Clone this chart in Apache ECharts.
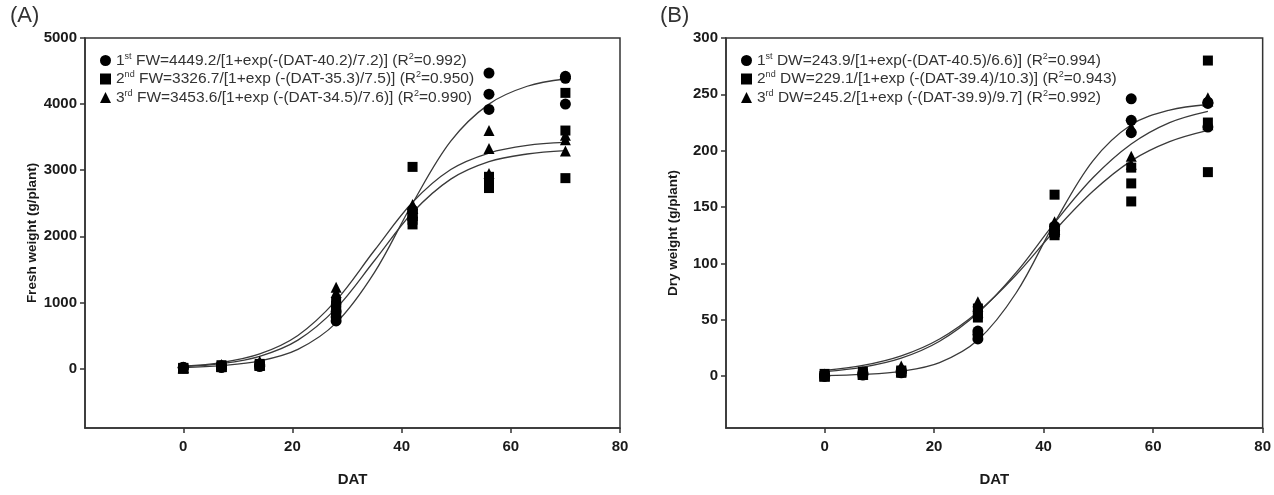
<!DOCTYPE html>
<html>
<head>
<meta charset="utf-8">
<title>Fresh and dry weight growth curves</title>
<script src="https://cdn.jsdelivr.net/npm/echarts@6/dist/echarts.min.js"></script>
<style>
    html, body { margin: 0; padding: 0; background: #fff; }
    #chart { width: 1274px; height: 495px; }
</style>
</head>
<body>
<div id="chart"></div>
<script>
/**
 * Observation days (DAT) and three replicate readings per day
 */
const obsDays = [0, 7, 14, 28, 42, 56, 70];

// Fresh weight (g/plant)
const fw1Obs = [[20, 15, 10], [40, 25, 15], [60, 45, 30], [860, 780, 720], [2400, 2350, 2280], [4470, 4150, 3920], [4420, 4390, 4000]];
const fw2Obs = [[10, 5, 0], [50, 30, 20], [70, 50, 40], [1000, 950, 880], [3050, 2250, 2180], [2900, 2800, 2730], [4170, 3600, 2880]];
const fw3Obs = [[20, 10, 5], [60, 40, 30], [110, 70, 50], [1230, 1150, 1050], [2480, 2420, 2320], [3600, 3330, 2950], [3530, 3460, 3290]];

// Dry weight (g/plant)
const dw1Obs = [[1, 0, 0], [3, 2, 1], [5, 4, 3], [40, 37, 33], [133, 129, 126], [246, 227, 216], [243, 242, 221]];
const dw2Obs = [[2, 0, 0], [4, 2, 1], [5, 4, 3], [60, 55, 52], [161, 131, 125], [185, 171, 155], [280, 225, 181]];
const dw3Obs = [[2, 1, 0], [4, 3, 2], [9, 5, 4], [66, 62, 57], [137, 135, 128], [221, 195, 188], [247, 244, 223]];

/**
 * Fitted curves
 */
const fitDays = [0, 7, 14, 21, 28, 35, 42, 49, 56, 63, 70];
const fw1Fit = [15, 45, 115, 290, 690, 1450, 2500, 3440, 4000, 4270, 4380];
const fw2Fit = [30, 75, 185, 430, 910, 1630, 2360, 2865, 3130, 3245, 3295];
const fw3Fit = [35, 90, 220, 500, 1030, 1785, 2515, 3010, 3260, 3375, 3420];
const dw1Fit = [0.5, 1.5, 4.3, 12, 32, 74, 136, 191, 223, 236, 241];
const dw2Fit = [5, 9.5, 18, 33, 57, 90, 129, 164, 191, 208, 218];
const dw3Fit = [4, 8, 16, 31, 56, 92, 136, 176, 206, 225, 235];

// Axis ticks
const xTicks = [0, 20, 40, 60, 80];
const fwTicks = [0, 1000, 2000, 3000, 4000, 5000];
const dwTicks = [0, 50, 100, 150, 200, 250, 300];

// Legend entries (rich text, superscripts in {s|...})
const legendText = {
    FW1: '1{s|st} FW=4449.2/[1+exp(-(DAT-40.2)/7.2)] (R{s|2}=0.992)',
    FW2: '2{s|nd} FW=3326.7/[1+exp (-(DAT-35.3)/7.5)] (R{s|2}=0.950)',
    FW3: '3{s|rd} FW=3453.6/[1+exp (-(DAT-34.5)/7.6)] (R{s|2}=0.990)',
    DW1: '1{s|st} DW=243.9/[1+exp(-(DAT-40.5)/6.6)] (R{s|2}=0.994)',
    DW2: '2{s|nd} DW=229.1/[1+exp (-(DAT-39.4)/10.3)] (R{s|2}=0.943)',
    DW3: '3{s|rd} DW=245.2/[1+exp (-(DAT-39.9)/9.7] (R{s|2}=0.992)',
};

const FONT = '"Liberation Sans", Arial, sans-serif';
const INK = '#1a1a1a';

/**
 * Flatten per-day replicate arrays into [x, y] points
 */
function toPoints(days, reps) {
    const out = [];
    days.forEach((d, i) => reps[i].forEach(v => out.push([d, v])));
    return out;
}

function toLine(days, vals) {
    return days.map((d, i) => [d, vals[i]]);
}

function xAxisFor(gridIndex) {
    return {
        type: 'value', gridIndex, min: -18, max: 80,
        name: 'DAT', nameLocation: 'middle', nameGap: 44,
        nameTextStyle: { fontFamily: FONT, fontWeight: 'bold', fontSize: 15, color: INK },
        axisLine: { onZero: false, lineStyle: { color: '#333', width: 1.5 } },
        axisTick: { customValues: xTicks, length: 5, lineStyle: { color: '#333', width: 1.5 } },
        axisLabel: { customValues: xTicks, fontFamily: FONT, fontWeight: 'bold', fontSize: 15, color: INK, margin: 11 },
        splitLine: { show: false },
    };
}

function yAxisFor(gridIndex, min, max, ticks, name) {
    return {
        type: 'value', gridIndex, min, max,
        name, nameLocation: 'middle', nameGap: 46,
        nameTextStyle: { fontFamily: FONT, fontWeight: 'bold', fontSize: 13.5, color: INK },
        axisLine: { show: true, onZero: false, lineStyle: { color: '#333', width: 1.5 } },
        axisTick: { show: true, customValues: ticks, length: 5, lineStyle: { color: '#333', width: 1.5 } },
        axisLabel: {
            customValues: ticks, fontFamily: FONT, fontWeight: 'bold', fontSize: 15, color: INK, margin: 8,
            formatter: v => String(v),
        },
        splitLine: { show: false },
    };
}

function scatter(name, idx, symbol, size, reps) {
    return {
        name, type: 'scatter', xAxisIndex: idx, yAxisIndex: idx,
        symbol, symbolSize: size,
        itemStyle: { color: '#000', opacity: 1 },
        data: toPoints(obsDays, reps),
        z: 3,
    };
}

function fitLine(idx, vals) {
    return {
        type: 'line', xAxisIndex: idx, yAxisIndex: idx,
        smooth: 0.35, showSymbol: false, silent: true,
        lineStyle: { color: '#3a3a3a', width: 1.3 },
        data: toLine(fitDays, vals),
        z: 2,
    };
}

function legendFor(left, names) {
    return {
        left, top: 47, orient: 'vertical', itemGap: 2,
        itemWidth: 11, itemHeight: 11,
        data: names, selectedMode: false,
        itemStyle: { opacity: 1 },
        formatter: n => legendText[n],
        textStyle: {
            fontFamily: FONT, fontSize: 15.5, color: '#333',
            rich: { s: { fontSize: 9, color: '#333', padding: [0, 0, 8, 0] } },
        },
    };
}

const chart = echarts.init(document.getElementById('chart'), null, { renderer: 'canvas' });

chart.setOption({
    backgroundColor: '#fff',
    animation: false,
    title: [
        { text: '(A)', left: 5, top: 0, textStyle: { fontFamily: FONT, fontWeight: 'normal', fontSize: 22, color: '#333' } },
        { text: '(B)', left: 655, top: 0, textStyle: { fontFamily: FONT, fontWeight: 'normal', fontSize: 22, color: '#333' } },
    ],
    grid: [
        { left: 85, top: 38, width: 535, height: 390, show: true, borderColor: '#333', borderWidth: 1.5, containLabel: false },
        { left: 726, top: 38, width: 537, height: 390, show: true, borderColor: '#333', borderWidth: 1.5, containLabel: false },
    ],
    xAxis: [xAxisFor(0), xAxisFor(1)],
    yAxis: [
        yAxisFor(0, -900, 5000, fwTicks, 'Fresh weight (g/plant)'),
        yAxisFor(1, -46, 300, dwTicks, 'Dry weight (g/plant)'),
    ],
    legend: [
        legendFor(95, ['FW1', 'FW2', 'FW3']),
        legendFor(736, ['DW1', 'DW2', 'DW3']),
    ],
    series: [
        fitLine(0, fw1Fit),
        fitLine(0, fw2Fit),
        fitLine(0, fw3Fit),
        scatter('FW1', 0, 'circle', 11, fw1Obs),
        scatter('FW2', 0, 'rect', 10, fw2Obs),
        scatter('FW3', 0, 'triangle', 11, fw3Obs),
        fitLine(1, dw1Fit),
        fitLine(1, dw2Fit),
        fitLine(1, dw3Fit),
        scatter('DW1', 1, 'circle', 11, dw1Obs),
        scatter('DW2', 1, 'rect', 10, dw2Obs),
        scatter('DW3', 1, 'triangle', 11, dw3Obs),
    ],
});
</script>
</body>
</html>
